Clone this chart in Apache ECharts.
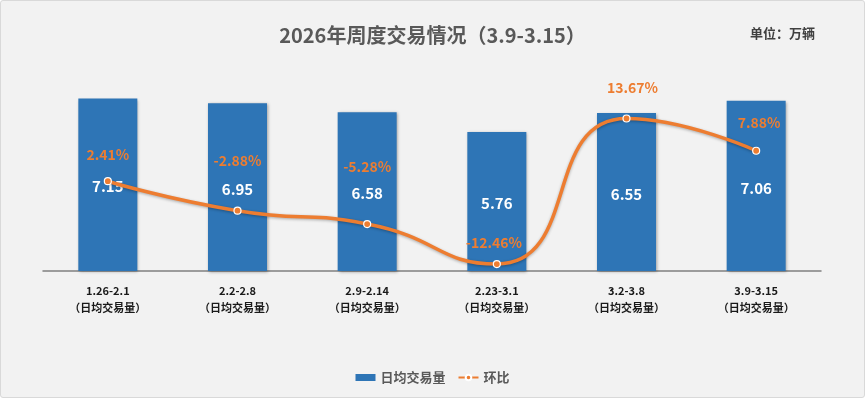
<!DOCTYPE html>
<html>
<head>
<meta charset="utf-8">
<script src="https://cdn.jsdelivr.net/npm/echarts@6/dist/echarts.min.js"></script>
<style>
html, body { margin: 0; padding: 0; background: #fff; }
.wrap {
    position: absolute; left: 0; top: 0;
    width: 863px; height: 396px;
    border: 1px solid #d9d9d9;
    border-radius: 3px;
    background: #f2f2f2;
}
#chart { width: 863px; height: 396px; }
</style>
</head>
<body>
<div class="wrap"><div id="chart"></div></div>
<script>
// 周度数据
var weeks = ['1.26-2.1', '2.2-2.8', '2.9-2.14', '2.23-3.1', '3.2-3.8', '3.9-3.15']
var dailyVolume = [7.15, 6.95, 6.58, 5.76, 6.55, 7.06]   // 万辆
var weekChange = [2.41, -2.88, -5.28, -12.46, 13.67, 7.88] // %
// 环比标签的手动偏移 (类似excel里拖过的位置)
var pctLabelOffset = [[0, -27], [0, -50], [0, -57], [-3, -21], [6, -31], [3, -28]]

var dom = document.getElementById('chart')
var chart = echarts.init(dom)
var font = '"Noto Sans CJK SC", "Noto Sans", sans-serif'

var lineData = weekChange.map(function (v, i) {
    return {
        value: v,
        label: { offset: pctLabelOffset[i] }
    }
})

var option = {
    textStyle: { fontFamily: font },
    title: [{
        text: '2026年周度交易情况（3.9-3.15）',
        left: 'center',
        top: 19,
        textStyle: { fontSize: 20, fontWeight: 'bold', color: '#595959', fontFamily: font }
    }, {
        text: '单位：万辆',
        right: 44,
        top: 21,
        textStyle: { fontSize: 13, fontWeight: 'bold', color: '#404040', fontFamily: font }
    }],
    legend: {
        bottom: 8,
        left: 'center',
        itemWidth: 20,
        itemHeight: 7,
        itemGap: 12,
        textStyle: { fontSize: 13, fontWeight: 'bold', color: '#595959', fontFamily: font },
        data: [
            { name: '日均交易量', icon: 'rect' },
            { name: '环比' }
        ]
    },
    grid: {
        left: 42,
        right: 43,
        top: 77,
        bottom: 126
    },
    xAxis: {
        type: 'category',
        data: weeks,
        axisLine: { lineStyle: { color: '#808080', width: 1.5 } },
        axisTick: { show: false },
        axisLabel: {
            interval: 0,
            margin: 11,
            lineHeight: 17,
            fontSize: 11,
            fontWeight: 'bold',
            color: '#1a1a1a',
            fontFamily: font,
            formatter: function (v) { return v + '\n（日均交易量）' }
        }
    },
    yAxis: [{
        type: 'value',
        min: 0,
        max: 8,
        show: false,
        splitLine: { show: false }
    }, {
        type: 'value',
        min: -13.71,
        max: 20.94,
        show: false,
        splitLine: { show: false }
    }],
    series: [{
        name: '日均交易量',
        type: 'bar',
        barWidth: '45.5%',
        data: dailyVolume,
        itemStyle: {
            color: '#2e75b6',
            shadowColor: 'rgba(0,0,0,0.35)',
            shadowBlur: 3,
            shadowOffsetX: 1,
            shadowOffsetY: 1
        },
        label: {
            show: true,
            position: 'inside',
            offset: [0, 2],
            fontSize: 15,
            fontWeight: 'bold',
            color: '#fff',
            fontFamily: font
        }
    }, {
        name: '环比',
        type: 'line',
        yAxisIndex: 1,
        smooth: 0.55,
        data: lineData,
        symbol: 'circle',
        symbolSize: 7,
        lineStyle: {
            color: '#ed7d31',
            width: 3.5,
            shadowColor: 'rgba(0,0,0,0.3)',
            shadowBlur: 3,
            shadowOffsetY: 1
        },
        itemStyle: {
            color: '#ed7d31',
            borderColor: '#fff',
            borderWidth: 1.2
        },
        label: {
            show: true,
            position: 'inside',
            fontSize: 14,
            fontWeight: 'bold',
            color: '#ed7d31',
            fontFamily: font,
            formatter: function (p) { return p.value.toFixed(2) + '%' }
        },
        z: 5
    }]
}

chart.setOption(option)
</script>
</body>
</html>
